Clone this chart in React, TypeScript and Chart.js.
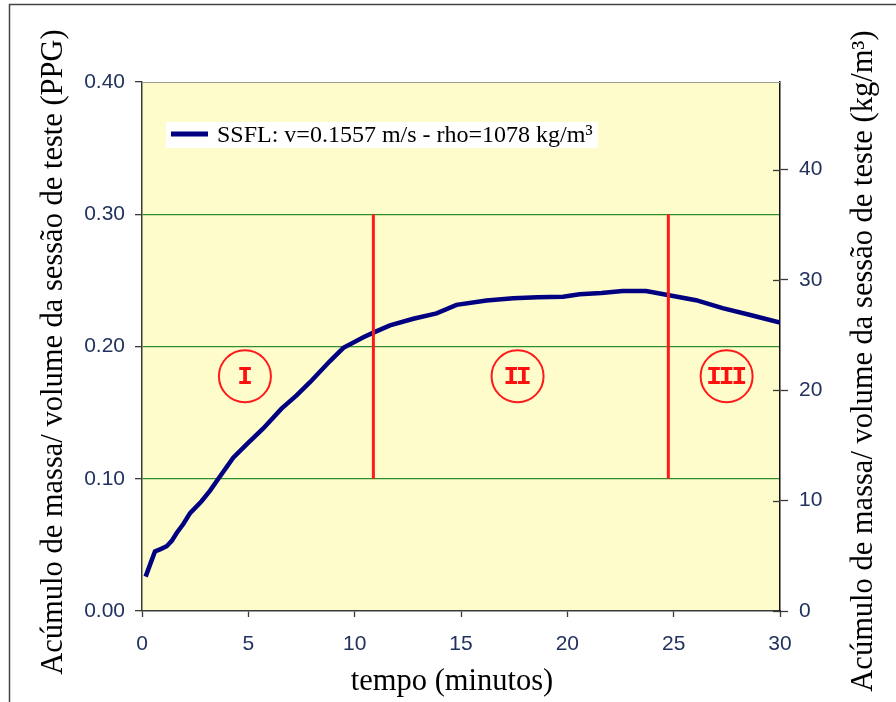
import React, { useEffect, useRef } from 'react';
import { Chart, registerables } from 'chart.js';

Chart.register(...registerables);

// ---- data ----
const timeMin = [
  0.17, 0.4, 0.61, 0.9, 1.16, 1.4, 1.63, 1.95, 2.26, 2.8, 3.2, 3.59, 4.29, 4.92, 5.7,
  6.56, 7.27, 7.9, 8.84, 9.47, 10.41, 10.88, 11.66, 12.76, 13.85, 14.79, 16.2, 17.45,
  18.6, 19.8, 20.58, 21.6, 22.6, 23.7, 24.72, 26.05, 27.3, 28.56, 30,
];
const massPPG = [
  0.026, 0.036, 0.045, 0.047, 0.049, 0.053, 0.059, 0.066, 0.074, 0.083, 0.091, 0.1, 0.116,
  0.126, 0.138, 0.153, 0.163, 0.173, 0.189, 0.199, 0.207, 0.2105, 0.216, 0.221, 0.225,
  0.2315, 0.2347, 0.2365, 0.2372, 0.2377, 0.2395, 0.2405, 0.242, 0.242, 0.239, 0.235,
  0.229, 0.224, 0.218,
];
const seriesLabel = 'SSFL: v=0.1557 m/s - rho=1078 kg/m³';

const phaseBoundariesMin = [10.88, 24.75];
const boundaryPPG = [0.1, 0.3];
const phaseLabels = ['I', 'II', 'III'];
const phaseCenterMin = [4.84, 17.66, 27.49];
const phaseCenterPPG = [0.1775, 0.1775, 0.1775];

const xTicksStep = 5;
const xRange = [0, 30];
const yTicksStep = 0.1;
const yRange = [0, 0.4];
const y2TicksStep = 10;
const PPG_TO_KGM3 = 119.83;

const xTitle = 'tempo (minutos)';
const yTitle = 'Acúmulo de massa/ volume da sessão de teste (PPG)';
const y2Title = 'Acúmulo de massa/ volume da sessão de teste (kg/m³)';

const TICK_COLOR = '#22325f';
const AXIS_COLOR = '#3a3a3a';
const SERIF = '"Liberation Serif", "Times New Roman", serif';
const SANS = '"Liberation Sans", Arial, sans-serif';

export default function App() {
  const canvasRef = useRef<HTMLCanvasElement | null>(null);

  useEffect(() => {
    const canvas = canvasRef.current;
    if (!canvas) return;

    const decorPlugin = {
      id: 'decor',
      beforeDraw(chart: any) {
        const { ctx, chartArea, width, height } = chart;
        ctx.save();
        ctx.fillStyle = '#ffffff';
        ctx.fillRect(0, 0, width, height);
        ctx.fillStyle = '#fffccb';
        ctx.fillRect(chartArea.left, chartArea.top, chartArea.right - chartArea.left, chartArea.bottom - chartArea.top);
        // outer frame
        ctx.strokeStyle = '#444444';
        ctx.lineWidth = 1.5;
        ctx.beginPath();
        ctx.moveTo(9.5, height);
        ctx.lineTo(9.5, 4.5);
        ctx.lineTo(width, 4.5);
        ctx.stroke();
        ctx.restore();
      },
      afterDraw(chart: any) {
        const { ctx, chartArea, scales } = chart;
        ctx.save();
        // top border of plot
        ctx.strokeStyle = '#9a9a9a';
        ctx.lineWidth = 1;
        ctx.beginPath();
        ctx.moveTo(chartArea.left, chartArea.top + 0.5);
        ctx.lineTo(chartArea.right, chartArea.top + 0.5);
        ctx.stroke();
        // inner ticks for right axis
        ctx.strokeStyle = AXIS_COLOR;
        ctx.lineWidth = 1.3;
        scales.y2.ticks.forEach((t: any) => {
          const py = Math.round(scales.y2.getPixelForValue(t.value)) + 0.5;
          ctx.beginPath();
          ctx.moveTo(chartArea.right - 7, py);
          ctx.lineTo(chartArea.right, py);
          ctx.stroke();
        });
        // phase labels
        ctx.save();
        ctx.fillStyle = '#ff1010';
        ctx.font = 'bold 26px "Liberation Mono", "Courier New", monospace';
        ctx.textAlign = 'center';
        ctx.textBaseline = 'middle';
        try { (ctx as any).letterSpacing = '-3px'; } catch (e) { /* ignore */ }
        phaseLabels.forEach((lab, i) => {
          const px = scales.x.getPixelForValue(phaseCenterMin[i]);
          const py = scales.y.getPixelForValue(phaseCenterPPG[i]);
          ctx.fillText(lab, px - 1.5, py + 1);
        });
        try { (ctx as any).letterSpacing = '0px'; } catch (e) { /* ignore */ }
        ctx.restore();
        // legend
        const lx = chartArea.left + 24;
        const ly = chartArea.top + 40;
        ctx.fillStyle = '#ffffff';
        ctx.fillRect(lx, ly, 432, 26);
        ctx.strokeStyle = '#000080';
        ctx.lineWidth = 5;
        ctx.beginPath();
        ctx.moveTo(lx + 5, ly + 12);
        ctx.lineTo(lx + 42, ly + 12);
        ctx.stroke();
        ctx.fillStyle = '#000000';
        ctx.font = `24px ${SERIF}`;
        ctx.textAlign = 'left';
        ctx.textBaseline = 'alphabetic';
        ctx.fillText(seriesLabel, lx + 51, ly + 20);
        // axis titles
        ctx.font = `30.5px ${SERIF}`;
        ctx.textAlign = 'center';
        ctx.fillStyle = '#000000';
        ctx.fillText(xTitle, 452, 690);
        ctx.save();
        ctx.translate(62, 352);
        ctx.rotate(-Math.PI / 2);
        ctx.fillText(yTitle, 0, 0);
        ctx.restore();
        ctx.save();
        ctx.translate(872, 361);
        ctx.rotate(-Math.PI / 2);
        ctx.fillText(y2Title, 0, 0);
        ctx.restore();
        ctx.restore();
      },
    };

    const mainData = timeMin.map((t, i) => ({ x: t, y: massPPG[i] }));
    const boundarySets = phaseBoundariesMin.map((b) => ({
      type: 'line',
      label: 'boundary',
      data: boundaryPPG.map((v) => ({ x: b, y: v })),
      borderColor: '#ff1a1a',
      borderWidth: 3,
      pointRadius: 0,
      order: 0,
    }));

    const chart = new Chart(canvas, {
      type: 'line',
      data: {
        datasets: [
          ...boundarySets,
          {
            type: 'scatter',
            label: 'phases',
            data: phaseCenterMin.map((m, i) => ({ x: m, y: phaseCenterPPG[i] })),
            pointRadius: 26,
            pointHoverRadius: 26,
            borderColor: '#ff1a1a',
            borderWidth: 2,
            backgroundColor: 'rgba(0,0,0,0)',
            showLine: false,
            order: 0,
          },
          {
            type: 'line',
            label: seriesLabel,
            data: mainData,
            borderColor: '#000080',
            borderWidth: 4.5,
            pointRadius: 0,
            tension: 0,
            order: 1,
          },
        ] as any,
      },
      options: {
        responsive: false,
        animation: false,
        devicePixelRatio: 1,
        layout: { padding: { top: 82, left: 0, right: 0, bottom: 0 } },
        plugins: {
          legend: { display: false },
          tooltip: { enabled: false },
        },
        scales: {
          x: {
            type: 'linear',
            min: xRange[0],
            max: xRange[1],
            ticks: {
              stepSize: xTicksStep,
              color: TICK_COLOR,
              font: { family: SANS, size: 21 },
              padding: 15,
              maxRotation: 0,
            },
            grid: { drawOnChartArea: false, tickLength: 6, tickColor: AXIS_COLOR, tickWidth: 1.3 },
            border: { color: AXIS_COLOR, width: 1.5 },
            title: { display: false, text: xTitle },
            afterFit: (s: any) => { s.height = 91; },
          },
          y: {
            type: 'linear',
            position: 'left',
            min: yRange[0],
            max: yRange[1],
            ticks: {
              stepSize: yTicksStep,
              color: TICK_COLOR,
              font: { family: SANS, size: 21 },
              padding: 10,
              callback: (v: any) => Number(v).toFixed(2),
            },
            grid: {
              color: (c: any) => (c.tick && c.tick.value > 0.001 && c.tick.value < 0.399 ? '#2f8f2f' : 'rgba(0,0,0,0)'),
              lineWidth: 1.3,
              tickLength: 7,
              tickColor: AXIS_COLOR,
              tickWidth: 1.3,
            },
            border: { color: AXIS_COLOR, width: 1.5 },
            title: { display: false, text: yTitle },
            afterFit: (s: any) => { s.width = 142; },
          },
          y2: {
            type: 'linear',
            position: 'right',
            min: yRange[0] * PPG_TO_KGM3,
            max: yRange[1] * PPG_TO_KGM3,
            ticks: {
              stepSize: y2TicksStep,
              includeBounds: false,
              color: TICK_COLOR,
              font: { family: SANS, size: 21 },
              padding: 11,
            },
            afterBuildTicks: (s: any) => {
              s.ticks = s.ticks.filter((t: any) => Math.abs(t.value / y2TicksStep - Math.round(t.value / y2TicksStep)) < 1e-6);
            },
            grid: { drawOnChartArea: false, tickLength: 8, tickColor: AXIS_COLOR, tickWidth: 1.3 },
            border: { color: '#111111', width: 1.5 },
            title: { display: false, text: y2Title },
            afterFit: (s: any) => { s.width = 116; },
          },
        },
      } as any,
      plugins: [decorPlugin],
    });

    return () => chart.destroy();
  }, []);

  return (
    <div style={{ position: 'absolute', left: 0, top: 0, width: 896, height: 702 }}>
      <canvas ref={canvasRef} width={896} height={702} style={{ display: 'block', width: 896, height: 702 }} />
    </div>
  );
}
